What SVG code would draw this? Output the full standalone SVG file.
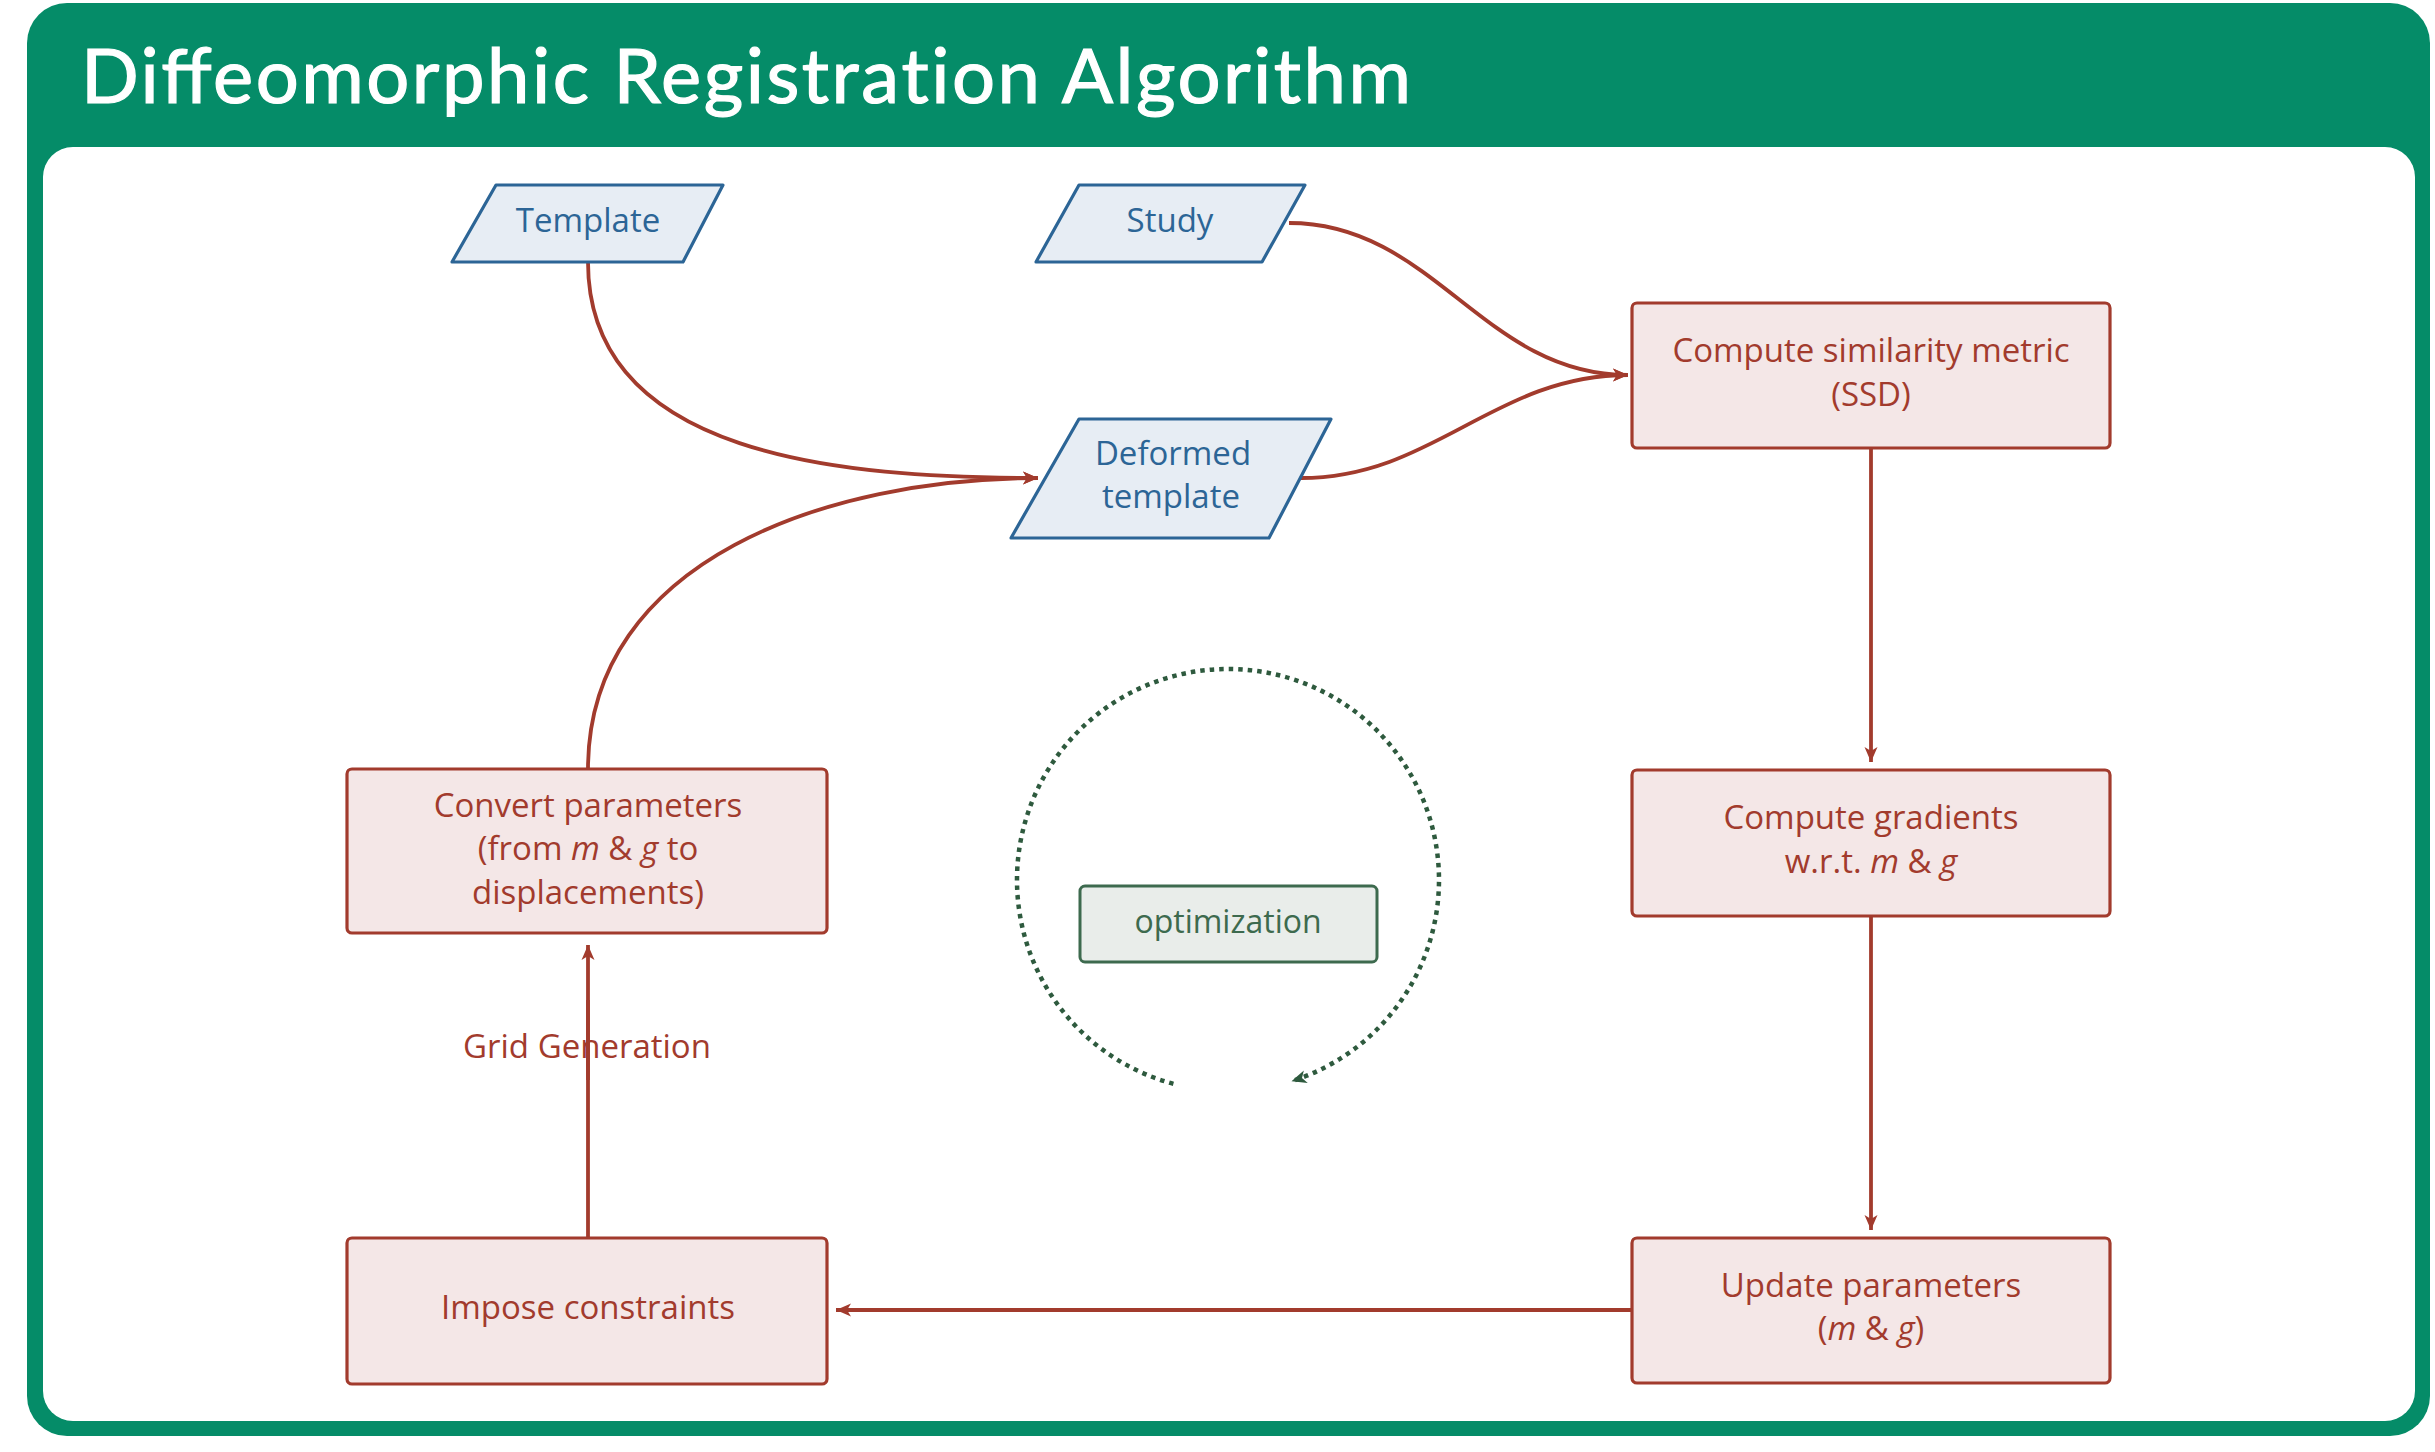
<svg xmlns="http://www.w3.org/2000/svg" width="2435" height="1452" viewBox="0 0 2435 1452">
<defs>
<style>
.box{fill:#f4e7e7;stroke:#a23b2d;stroke-width:3.2}
.para{fill:#e7edf4;stroke:#2c6596;stroke-width:3.2;stroke-linejoin:round}
.rt{font-family:"Open Sans","DejaVu Sans",sans-serif;font-size:33px;fill:#a23b2d;text-anchor:middle}
.bt{font-family:"Open Sans","DejaVu Sans",sans-serif;font-size:33px;fill:#2c6596;text-anchor:middle}
.gt{font-family:"Open Sans","DejaVu Sans",sans-serif;font-size:32px;fill:#3d6a4e;text-anchor:middle}
.it{font-style:italic}
.nolig{font-variant-ligatures:none;font-feature-settings:"liga" 0,"dlig" 0,"clig" 0}
.conn{fill:none;stroke:#a23b2d;stroke-width:3.8}
.dot{fill:none;stroke:#2e5a3e;stroke-width:4.5;stroke-dasharray:4.5 5}
</style>
<marker id="ar" markerUnits="userSpaceOnUse" markerWidth="20" markerHeight="16" viewBox="-17 -8 19 16" refX="0" refY="0" orient="auto">
<path d="M0,0 L-15,-6.5 L-11,0 L-15,6.5 Z" fill="#a23b2d"/>
</marker>
<marker id="ag" markerUnits="userSpaceOnUse" markerWidth="20" markerHeight="16" viewBox="-17 -8 19 16" refX="0" refY="0" orient="auto">
<path d="M0,0 L-15,-6.5 L-11,0 L-15,6.5 Z" fill="#2e5a3e"/>
</marker>
</defs>
<g id="frame">
<rect x="27" y="3" width="2403" height="1433" rx="40" fill="#058c68"/>
<rect x="43" y="147" width="2372" height="1274" rx="30" fill="#ffffff"/>
<text x="81" y="103" font-family="Lato,'Open Sans',sans-serif" font-size="76" font-weight="400" fill="#ffffff" stroke="#ffffff" stroke-width="1.2" textLength="1330" lengthAdjust="spacing">Diffeomorphic Registra<tspan class="nolig">tion</tspan> Algorithm</text>
</g>
<g id="connectors">
<path class="conn" d="M588,262 C588,457 842,478 1038,478" marker-end="url(#ar)"/>
<path class="conn" d="M588,769 C588,560 828,478 1038,478" marker-end="url(#ar)"/>
<path class="conn" d="M1289,223 C1434,223 1483,375 1628,375" marker-end="url(#ar)"/>
<path class="conn" d="M1301,478 C1434,478 1494,375 1628,375" marker-end="url(#ar)"/>
<path class="conn" d="M1871,448 L1871,762" marker-end="url(#ar)"/>
<path class="conn" d="M1871,916 L1871,1230" marker-end="url(#ar)"/>
<path class="conn" d="M1632,1310 L836,1310" marker-end="url(#ar)"/>
<path class="conn" d="M588,1238 L588,945" marker-end="url(#ar)"/>
<path class="dot" d="M1173.4,1083.8 A211,211 0 1 1 1291.5,1081.2" marker-end="url(#ag)"/>
</g>
<g id="label-grid">
<text class="rt" x="587" y="1058">Grid Generation</text>
<line x1="588" y1="1000" x2="588" y2="1080" stroke="#a23b2d" stroke-width="3.8"/>
</g>
<g id="template">
<polygon class="para" points="496,185 723,185 683,262 452,262"/>
<text class="bt" x="588" y="232">Template</text>
</g>
<g id="study">
<polygon class="para" points="1079,185 1305,185 1262,262 1036,262"/>
<text class="bt" x="1170" y="232">Study</text>
</g>
<g id="deformed">
<polygon class="para" points="1079,419 1331,419 1269,538 1011,538"/>
<text class="bt" x="1173" y="465">Deformed</text>
<text class="bt" x="1171" y="508">template</text>
</g>
<g id="similarity">
<rect class="box" x="1632" y="303" width="478" height="145" rx="5"/>
<text class="rt" x="1871" y="362">Compute similarity metric</text>
<text class="rt" x="1871" y="406">(SSD)</text>
</g>
<g id="gradients">
<rect class="box" x="1632" y="770" width="478" height="146" rx="5"/>
<text class="rt" x="1871" y="829">Compute gradients</text>
<text class="rt" x="1871" y="873">w.r.t. <tspan class="it">m</tspan> &amp; <tspan class="it">g</tspan></text>
</g>
<g id="update">
<rect class="box" x="1632" y="1238" width="478" height="145" rx="5"/>
<text class="rt" x="1871" y="1297">Update parameters</text>
<text class="rt" x="1871" y="1340">(<tspan class="it">m</tspan> &amp; <tspan class="it">g</tspan>)</text>
</g>
<g id="impose">
<rect class="box" x="347" y="1238" width="480" height="146" rx="5"/>
<text class="rt" x="588" y="1319">Impose constraints</text>
</g>
<g id="convert">
<rect class="box" x="347" y="769" width="480" height="164" rx="5"/>
<text class="rt" x="588" y="817">Convert parameters</text>
<text class="rt" x="588" y="860">(from <tspan class="it">m</tspan> &amp; <tspan class="it">g</tspan> to</text>
<text class="rt" x="588" y="904">displacements)</text>
</g>
<g id="optimization">
<rect x="1080" y="886" width="297" height="76" rx="5" fill="#e9edea" stroke="#3d6a4e" stroke-width="3"/>
<text class="gt" x="1228" y="933">optimization</text>
</g>
</svg>
